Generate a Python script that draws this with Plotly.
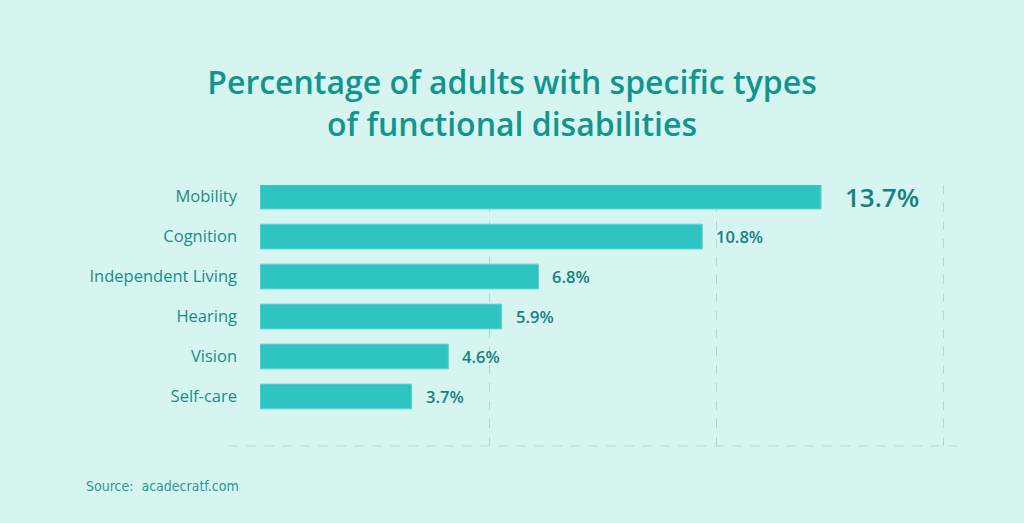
import plotly.graph_objects as go

# dati
categorie = ["Mobility", "Cognition", "Independent Living", "Hearing", "Vision", "Self-care"]
valori = [13.7, 10.8, 6.8, 5.9, 4.6, 3.7]
etichette = ["13.7%", "10.8%", "6.8%", "5.9%", "4.6%", "3.7%"]
griglia = [5.6, 11.15, 16.7]

sfondo = "#d6f4f0"
barra = "#2ec4c2"
testo = "#1b8c87"
linea = "#a9dcd8"

fig = go.Figure(go.Bar(
    x=valori, y=categorie, orientation="h",
    marker=dict(color=barra, line=dict(color="#63d5d2", width=1)),
    width=0.62, hoverinfo="skip",
))

# etichette dei valori a destra delle barre
for i, (c, v, t) in enumerate(zip(categorie, valori, etichette)):
    grande = i == 0
    fig.add_annotation(
        x=v, y=c, text=t, showarrow=False, xanchor="left",
        xshift=22 if grande else 12,
        font=dict(family="Open Sans", size=26 if grande else 16.5,
                  color="#14827e", weight=600),
    )

# linea di base tratteggiata
fig.add_shape(type="line", xref="paper", yref="paper", x0=-0.045, x1=1.0,
              y0=0, y1=0, line=dict(color=linea, width=1, dash="dash"))

fig.add_annotation(
    text="Source:&nbsp;&nbsp;acadecratf.com", xref="paper", yref="paper",
    x=-0.252, y=-0.155, xanchor="left", yanchor="middle", showarrow=False,
    font=dict(family="Liberation Sans Narrow, DejaVu Sans Condensed", size=14, color="#2a9a93"),
)

fig.update_layout(
    width=1024, height=523,
    paper_bgcolor=sfondo, plot_bgcolor=sfondo,
    margin=dict(l=260, r=67, t=185, b=77),
    title=dict(
        text="Percentage of adults with specific types<br>of functional disabilities",
        x=0.5, xref="container", xanchor="center", y=0.82, yanchor="middle",
        font=dict(family="Open Sans", size=32, color="#12958f", weight=600,
                  lineposition="none"),
    ),
    showlegend=False,
)
fig.update_xaxes(range=[0, 17.02], tickvals=griglia, showticklabels=False,
                 showgrid=True, gridcolor=linea, griddash="dash", gridwidth=1,
                 zeroline=False, showline=False, fixedrange=True)
fig.update_yaxes(range=[6.24, -0.29], showgrid=False, zeroline=False,
                 ticks="", ticklabelstandoff=22,
                 tickfont=dict(family="Open Sans", size=16.5, color=testo, weight=500),
                 fixedrange=True)

fig.write_html("out.html", config={"displayModeBar": False},
               post_script="document.body.style.margin='0';")
